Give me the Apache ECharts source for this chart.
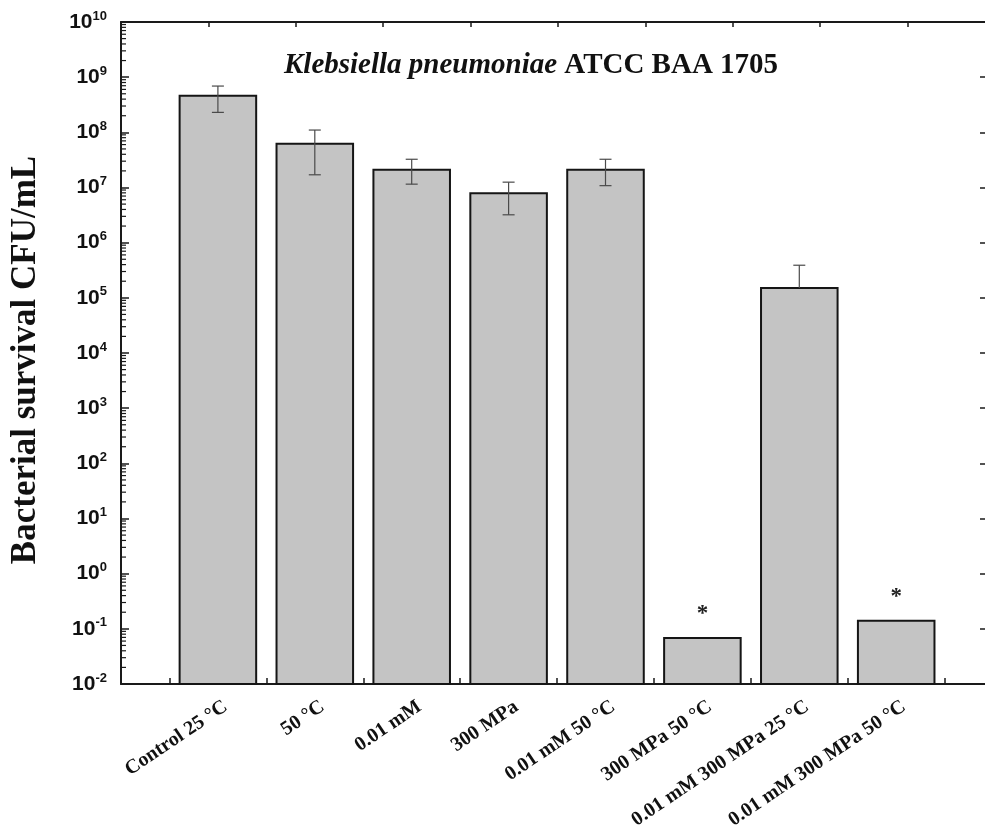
<!DOCTYPE html>
<html>
<head>
<meta charset="utf-8">
<script src="https://cdn.jsdelivr.net/npm/echarts@6/dist/echarts.min.js"></script>
<style>
  html, body { margin: 0; padding: 0; background: #ffffff; }
  #chart { width: 985px; height: 834px; }
</style>
</head>
<body>
<div id="chart"></div>
<script>
// Treatment groups (x-axis categories)
const categories = [
  'Control 25 °C',
  '50 °C',
  '0.01 mM',
  '300 MPa',
  '0.01 mM 50 °C',
  '300 MPa 50 °C',
  '0.01 mM 300 MPa 25 °C',
  '0.01 mM 300 MPa 50 °C'
];
// Mean survival, CFU/mL
const survival = [4.6e8, 6.2e7, 2.1e7, 7.9e6, 2.1e7, 0.068, 1.5e5, 0.14];
// Error bar ends (null = not drawn)
const errorUpper = [6.9e8, 1.1e8, 3.25e7, 1.25e7, 3.25e7, null, 3.9e5, null];
const errorLower = [2.3e8, 1.7e7, 1.15e7, 3.2e6, 1.08e7, null, null, null];
// Significance markers above bars
const significance = ['', '', '', '', '', '*', '', '*'];
// Decades labelled on the log axis (10^n)
const decadeExponents = [-2, -1, 0, 1, 2, 3, 4, 5, 6, 7, 8, 9, 10];

const majorTicks = decadeExponents.map(e => Math.pow(10, e));
const minorTicks = [];
decadeExponents.slice(0, -1).forEach(e => {
  for (let m = 2; m <= 9; m++) minorTicks.push(m * Math.pow(10, e));
});

const positions = categories.map((c, i) => i + 1);
const labelPositions = positions.map(p => p + 0.08);
const boundaryTicks = categories.map((c, i) => i + 0.5).concat([categories.length + 0.5]);
const topTicks = [1, 2, 3, 4, 5, 6, 7, 8, 9];

const barData = categories.map((c, i) => [positions[i], survival[i], errorUpper[i], errorLower[i], significance[i]]);

const AXIS_COLOR = '#1a1a1a';
const SERIF = '"Liberation Serif", "Times New Roman", serif';
const SANS = '"Liberation Sans", Arial, sans-serif';
const BAR_HALF = 0.395;

function renderBar(params, api) {
  const x = api.value(0);
  const v = api.value(1);
  const up = api.value(2);
  const lo = api.value(3);
  const mark = barData[params.dataIndex][4];
  const cs = params.coordSys;
  const bottom = cs.y + cs.height;
  const top = api.coord([x, v]);
  const left = api.coord([x - BAR_HALF, v])[0];
  const right = api.coord([x + BAR_HALF, v])[0];
  const cx = top[0];
  const children = [{
    type: 'rect',
    shape: { x: left, y: top[1], width: right - left, height: bottom - top[1] },
    style: { fill: '#c4c4c4', stroke: '#151515', lineWidth: 2 }
  }];
  const errStyle = { stroke: '#4a4a4a', lineWidth: 1.2 };
  if (up != null && !isNaN(up) && up > 0) {
    const yUp = api.coord([x, up])[1];
    let yLo = top[1];
    if (lo != null && !isNaN(lo) && lo > 0) {
      yLo = api.coord([x, lo])[1];
      children.push({ type: 'line', shape: { x1: cx - 6, y1: yLo, x2: cx + 6, y2: yLo }, style: errStyle });
    }
    children.push({ type: 'line', shape: { x1: cx, y1: yUp, x2: cx, y2: yLo }, style: errStyle });
    children.push({ type: 'line', shape: { x1: cx - 6, y1: yUp, x2: cx + 6, y2: yUp }, style: errStyle });
  }
  if (mark) {
    children.push({
      type: 'text',
      x: cx, y: top[1] - 24,
      style: { text: mark, font: 'bold 23px ' + SERIF, fill: '#222', textAlign: 'center', textVerticalAlign: 'middle' }
    });
  }
  // Log-spaced minor ticks along the inner side of the left axis (drawn once)
  if (params.dataIndex === 0) {
    minorTicks.forEach(m => {
      const y = api.coord([x, m])[1];
      children.push({
        type: 'line',
        shape: { x1: cs.x + 1, y1: y, x2: cs.x + 5, y2: y },
        style: { stroke: AXIS_COLOR, lineWidth: 1.2 }
      });
    });
  }
  return { type: 'group', children: children };
}

const chart = echarts.init(document.getElementById('chart'), null, { renderer: 'canvas' });

const GRID_WIDTH = 868;

const option = {
  animation: false,
  backgroundColor: '#ffffff',
  title: {
    text: '{i|Klebsiella pneumoniae}{n| ATCC BAA 1705}',
    left: 279,
    top: 46,
    textStyle: {
      rich: {
        i: { fontFamily: SERIF, fontSize: 29, fontStyle: 'italic', fontWeight: 'bold', color: '#111' },
        n: { fontFamily: SERIF, fontSize: 29, fontWeight: 'bold', color: '#111' }
      }
    }
  },
  graphic: [{
    type: 'text',
    x: 26, y: 360,
    rotation: Math.PI / 2,
    style: {
      text: 'Bacterial survival CFU/mL',
      font: 'bold 35px ' + SERIF,
      fill: '#111',
      textAlign: 'center',
      textVerticalAlign: 'middle'
    }
  }],
  grid: { left: 121, top: 22, width: GRID_WIDTH, height: 662, containLabel: false, outerBoundsMode: 'none' },
  xAxis: [{
    type: 'value',
    position: 'bottom',
    min: 0,
    max: GRID_WIDTH / 96.9,
    splitLine: { show: false },
    axisLine: { show: true, onZero: false, lineStyle: { color: AXIS_COLOR, width: 2 } },
    axisTick: { show: true, inside: true, length: 6, customValues: boundaryTicks, lineStyle: { color: AXIS_COLOR, width: 1.5 } },
    axisLabel: {
      show: true,
      customValues: labelPositions,
      formatter: v => categories[Math.round(v) - 1] || '',
      rotate: 34,
      margin: 21,
      fontFamily: SERIF,
      fontWeight: 'bold',
      fontSize: 20,
      color: '#111'
    }
  }, {
    type: 'value',
    position: 'top',
    min: 0,
    max: GRID_WIDTH / 87.375,
    splitLine: { show: false },
    axisLine: { show: true, onZero: false, lineStyle: { color: AXIS_COLOR, width: 2 } },
    axisTick: { show: true, inside: true, length: 5, customValues: topTicks, lineStyle: { color: AXIS_COLOR, width: 1.5 } },
    axisLabel: { show: false }
  }],
  yAxis: [{
    type: 'log',
    logBase: 10,
    position: 'left',
    min: 0.01,
    max: 1e10,
    splitLine: { show: false },
    axisLine: { show: true, onZero: false, lineStyle: { color: AXIS_COLOR, width: 2 } },
    axisTick: { show: true, inside: true, length: 8, customValues: majorTicks, lineStyle: { color: AXIS_COLOR, width: 1.5 } },
    axisLabel: {
      show: true,
      customValues: majorTicks,
      margin: 14,
      formatter: v => '{b|10}{s|' + Math.round(Math.log10(v)) + '}',
      rich: {
        b: { fontFamily: SANS, fontWeight: 'bold', fontSize: 21, color: '#111' },
        s: { fontFamily: SANS, fontWeight: 'bold', fontSize: 13, color: '#111', padding: [0, 0, 12, 0] }
      }
    }
  }, {
    type: 'log',
    logBase: 10,
    position: 'right',
    min: 0.01,
    max: 1e10,
    splitLine: { show: false },
    axisLine: { show: true, onZero: false, lineStyle: { color: AXIS_COLOR, width: 2 } },
    axisTick: { show: true, inside: true, length: 9, customValues: majorTicks, lineStyle: { color: AXIS_COLOR, width: 1.5 } },
    axisLabel: { show: false }
  }],
  series: [{
    type: 'custom',
    name: 'Bacterial survival',
    coordinateSystem: 'cartesian2d',
    xAxisIndex: 0,
    yAxisIndex: 0,
    renderItem: renderBar,
    encode: { x: 0, y: 1 },
    data: barData.map(d => [d[0], d[1], d[2] == null ? NaN : d[2], d[3] == null ? NaN : d[3]]),
    clip: false,
    z: 3
  }]
};

chart.setOption(option);
</script>
</body>
</html>
